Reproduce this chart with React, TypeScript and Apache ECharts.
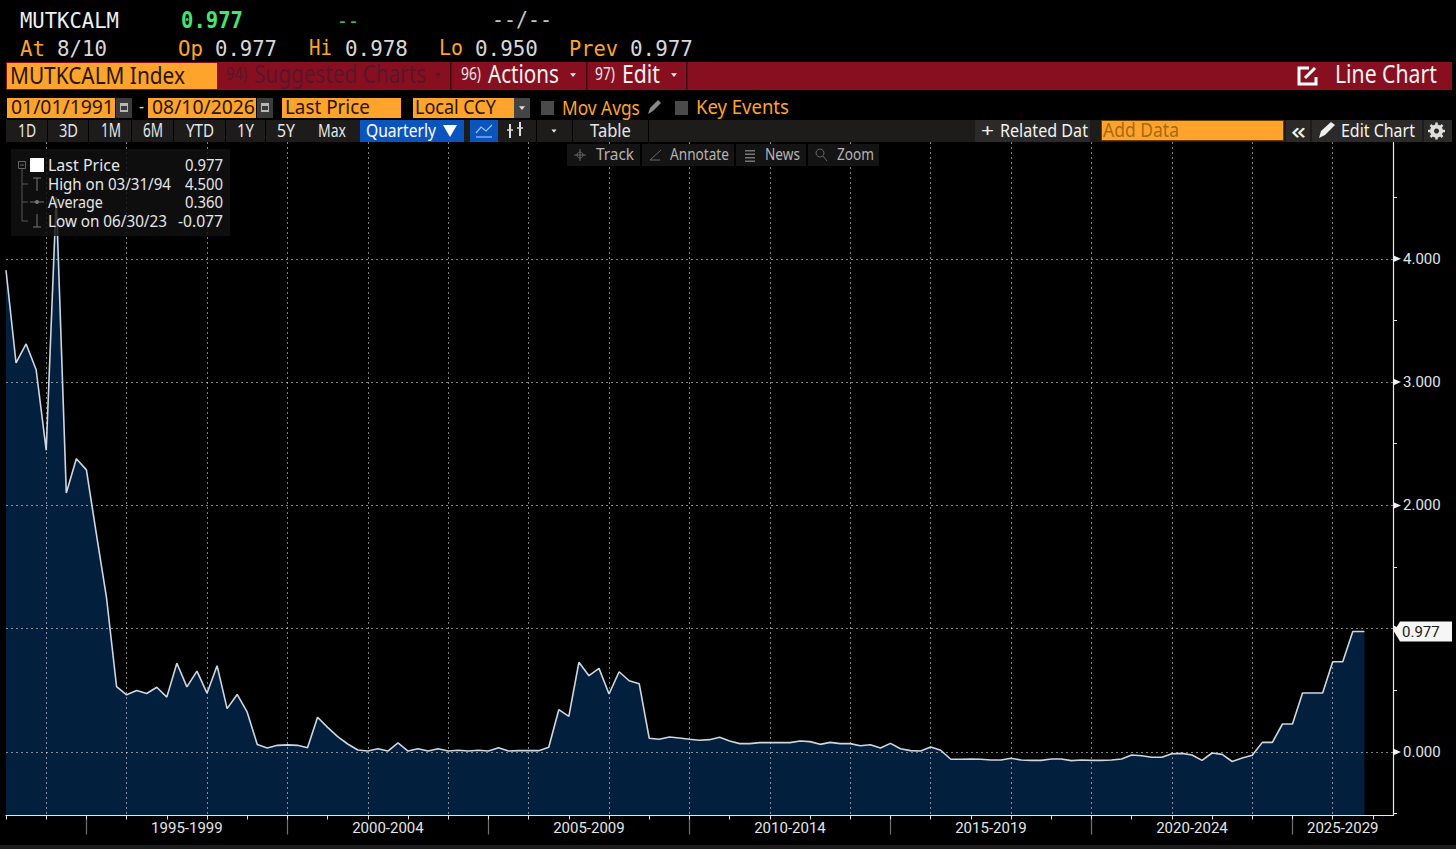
import React, { useEffect, useRef } from "react";
import * as echarts from "echarts";

// quarterly samples, first sample at 1993.00, one every quarter
const startYear = 1993;
const lastSampleYear = 2026.79; // the running quarter's stamp
const lastPriceValues = [
  3.907, 3.155, 3.309, 3.1, 2.448, 4.5, 2.1, 2.378, 2.288, 1.763, 1.251, 0.531,
  0.464, 0.499, 0.474, 0.525, 0.445, 0.72, 0.528, 0.656, 0.477, 0.7, 0.352, 0.467,
  0.323, 0.061, 0.032, 0.054, 0.058, 0.054, 0.035, 0.282, 0.2, 0.125, 0.065, 0.016,
  0.008, 0.027, 0.008, 0.073, 0.008, 0.027, 0.008, 0.027, 0.008, 0.014, 0.008, 0.014,
  0.008, 0.035, 0.008, 0.011, 0.011, 0.011, 0.038, 0.343, 0.289, 0.727, 0.619, 0.678,
  0.47, 0.651, 0.578, 0.554, 0.111, 0.103, 0.122, 0.114, 0.103, 0.095, 0.1, 0.119,
  0.089, 0.068, 0.068, 0.076, 0.076, 0.076, 0.076, 0.089, 0.084, 0.062, 0.078, 0.068,
  0.068, 0.051, 0.059, 0.032, 0.07, 0.027, 0.011, 0.008, 0.041, 0.014, -0.059, -0.059,
  -0.057, -0.059, -0.065, -0.065, -0.051, -0.065, -0.068, -0.068, -0.057, -0.057, -0.07, -0.065,
  -0.068, -0.068, -0.065, -0.057, -0.024, -0.03, -0.043, -0.043, -0.014, -0.011, -0.024, -0.068,
  -0.008, -0.019, -0.077, -0.049, -0.027, 0.078, 0.078, 0.227, 0.227, 0.478, 0.478, 0.478,
  0.732, 0.732, 0.977, 0.977,
];
const annualTicks = [
  1993, 1994, 1995, 1996, 1997, 1998, 1999, 2000, 2001, 2002, 2003, 2004, 2005, 2006, 2007, 2008, 2009, 2010,
  2011, 2012, 2013, 2014, 2015, 2016, 2017, 2018, 2019, 2020, 2021, 2022, 2023, 2024, 2025, 2026, 2027,
];
const periodStarts = [1995, 2000, 2005, 2010, 2015, 2020, 2025];
const periodLabels = ["1995-1999", "2000-2004", "2005-2009", "2010-2014", "2015-2019", "2020-2024", "2025-2029"];
const periodCentres = [1997.5, 2002.5, 2007.5, 2012.5, 2017.5, 2022.5, 2026.25];
const gridYears = [
  1994, 1996, 1998, 2000, 2002, 2004, 2006, 2008, 2010, 2012, 2014, 2016, 2018, 2020, 2022, 2024, 2026,
];
const yMajorTicks = [0, 1, 2, 3, 4];
const yMinorTicks = [-0.5, 0.5, 1.5, 2.5, 3.5, 4.5];
const lastPrice = 0.977;

const xMin = 1993;
const xMax = 2027.5;
const yMin = -0.515;
const yMax = 4.947;

const UI = "Noto Sans, Roboto, sans-serif";
const MONO = "DejaVu Sans Mono, monospace";
const ORANGE = "#fea42c";
const RED = "#880f20";
const BAR = "#1d1c1b";
const DIM = "#59162a";

const measureCtx = document.createElement("canvas").getContext("2d") as CanvasRenderingContext2D;

// text squeezed to span x0..x1, vertically centred on cy
function t(str: string, x0: number, x1: number, cy: number, size: number, fill: string, font = UI, weight = "normal") {
  measureCtx.font = `${weight} ${size}px ${font}`;
  const w = measureCtx.measureText(str).width || 1;
  return {
    type: "text",
    x: x0,
    y: font === UI ? cy - 1.5 : cy,
    scaleX: (x1 - x0) / w,
    z: 20,
    silent: true,
    style: { text: str, fill, font: `${weight} ${size}px ${font}`, textAlign: "left", textVerticalAlign: "middle" },
  };
}
function r(x: number, y: number, w: number, h: number, fill: string, opacity = 1, z = 15) {
  return { type: "rect", shape: { x, y, width: w, height: h }, style: { fill, opacity }, z, silent: true };
}
function tri(x: number, y: number, s: number, fill: string, z = 20) {
  return { type: "polygon", shape: { points: [[x - s, y - s * 0.6], [x + s, y - s * 0.6], [x, y + s * 0.7]] }, style: { fill }, z, silent: true };
}
function ln(x1: number, y1: number, x2: number, y2: number, stroke: string, lineWidth = 1, z = 20) {
  return { type: "line", shape: { x1, y1, x2, y2 }, style: { stroke, lineWidth }, z, silent: true };
}
function calendar(x: number, y: number) {
  return [r(x, y, 16, 20, "#3a3a3a", 1, 18), r(x + 4, y + 5, 8, 9, "#b8b8b8", 1, 19), r(x + 5, y + 8, 6, 4, "#3a3a3a", 1, 20)];
}

function chrome(): any[] {
  const W = "#e6e6e6";
  const Q = 22;
  return [
    // quote lines
    t("MUTKCALM", 20, 119, 20, Q, "#f0f0f0", MONO),
    t("0.977", 181, 243, 20, 23, "#45e56c", MONO, "bold"),
    t("--", 337, 359, 20, Q, "#2fbf5a", MONO),
    t("--/--", 492, 552, 20, Q, "#c8c8c8", MONO),
    t("At", 20, 45, 48, Q, ORANGE, MONO),
    t("8/10", 57, 107, 48, Q, "#d8d8d8", MONO),
    t("Op", 178, 203, 48, Q, ORANGE, MONO),
    t("0.977", 215, 277, 48, Q, "#d8d8d8", MONO),
    t("Hi", 309, 332, 48, Q, ORANGE, MONO),
    t("0.978", 345, 408, 48, Q, "#d8d8d8", MONO),
    t("Lo", 439, 463, 48, Q, ORANGE, MONO),
    t("0.950", 475, 538, 48, Q, "#d8d8d8", MONO),
    t("Prev", 569, 618, 48, Q, ORANGE, MONO),
    t("0.977", 630, 693, 48, Q, "#d8d8d8", MONO),

    // red title bar
    r(6, 62, 1446, 28, RED),
    r(7, 63, 210, 26, ORANGE, 1, 16),
    t("MUTKCALM Index", 10, 185, 76, 24, "#2a1500"),
    r(450, 62, 1.5, 28, "#3d0810", 1, 16),
    r(586, 62, 1.5, 28, "#3d0810", 1, 16),
    r(686, 62, 1.5, 28, "#3d0810", 1, 16),
    t("94)", 226, 247, 75, 18, DIM),
    t("Suggested Charts", 254, 426, 75, 25, DIM),
    tri(438, 75, 3, DIM),
    t("96)", 461, 481, 75, 18, W),
    t("Actions", 488, 559, 75, 25, "#f2f2f2"),
    tri(573, 75, 3, W),
    t("97)", 595, 615, 75, 18, W),
    t("Edit", 622, 660, 75, 25, "#f2f2f2"),
    tri(674, 75, 3, W),
    // pop-out icon
    { type: "polyline", shape: { points: [[1309, 68], [1299, 68], [1299, 84], [1316, 84], [1316, 77]] }, style: { stroke: "#fff", lineWidth: 3, fill: "none" }, z: 20, silent: true },
    ln(1305, 78, 1315, 68, "#fff", 3),
    t("Line Chart", 1335, 1437, 75, 25, "#f2f2f2"),

    // selector row
    r(7, 98, 108, 20, ORANGE),
    t("01/01/1991", 11, 114, 108, 20, "#2a1500"),
    ...calendar(116, 98),
    t("-", 139, 144, 108, 18, "#d0d0d0"),
    r(148, 98, 108, 20, ORANGE),
    t("08/10/2026", 152, 255, 108, 20, "#2a1500"),
    ...calendar(257, 98),
    r(282, 98, 119, 20, ORANGE),
    t("Last Price", 285, 370, 108, 20, "#2a1500"),
    r(413, 98, 101, 20, ORANGE),
    t("Local CCY", 415, 496, 108, 20, "#2a1500"),
    r(514, 98, 16, 20, "#444"),
    tri(522, 108, 3, "#ddd"),
    r(541, 101, 13, 14, "#4a4a4a"),
    t("Mov Avgs", 562, 640, 108, 20, ORANGE),
    { type: "polygon", shape: { points: [[648, 114], [650, 108], [658, 100], [661, 103], [653, 111]] }, style: { fill: "#8a8a8a" }, z: 20, silent: true },
    r(675, 101, 13, 14, "#4a4a4a"),
    t("Key Events", 696, 789, 108, 20, ORANGE),

    // range row
    r(6, 120, 1446, 22, BAR, 1, 14),
    t("1D", 18, 36, 131, 19, W),
    t("3D", 59, 78, 131, 19, W),
    t("1M", 101, 121, 131, 19, W),
    t("6M", 143, 163, 131, 19, W),
    t("YTD", 186, 214, 131, 19, W),
    t("1Y", 237, 254, 131, 19, W),
    t("5Y", 277, 295, 131, 19, W),
    t("Max", 318, 346, 131, 19, W),
    r(47, 120, 1, 22, "#000"), r(88, 120, 1, 22, "#000"), r(131, 120, 1, 22, "#000"),
    r(173, 120, 1, 22, "#000"), r(225, 120, 1, 22, "#000"), r(265, 120, 1, 22, "#000"),
    r(360, 120, 104, 22, "#0a54bd", 1, 16),
    t("Quarterly", 366, 436, 131, 19, "#ffffff"),
    { type: "polygon", shape: { points: [[443, 125], [457, 125], [450, 137]] }, style: { fill: "#fff" }, z: 20, silent: true },
    r(470, 120, 28, 22, "#0a54bd", 1, 16),
    { type: "polyline", shape: { points: [[476, 133], [481, 127], [486, 131], [492, 125]] }, style: { stroke: "#9cc4ff", lineWidth: 1.2, fill: "none" }, z: 20, silent: true },
    ln(476, 137, 492, 137, "#9cc4ff", 1.2),
    ln(510, 124, 510, 138, "#ddd", 2), ln(520, 122, 520, 136, "#ddd", 2), ln(507, 130, 513, 130, "#ddd", 1.5), ln(517, 128, 523, 128, "#ddd", 1.5),
    r(536, 120, 1, 22, "#000"),
    tri(554, 131, 2.5, W),
    r(572, 120, 1, 22, "#000"), r(648, 120, 1, 22, "#000"),
    t("Table", 590, 631, 131, 19, W),
    r(975, 120, 115, 22, "#2b2a29", 1, 16),
    t("+", 981, 994, 131, 19, "#f2f2f2"),
    t("Related Dat", 1000, 1088, 131, 19, "#f2f2f2"),
    r(1101, 120, 183, 21, "#6b3d00", 1, 16),
    r(1102, 121, 181, 19, ORANGE, 1, 17),
    t("Add Data", 1103, 1179, 131, 20, "#a8690f"),
    r(1286, 120, 24, 22, "#2b2a29", 1, 16),
    t("«", 1291, 1306, 131, 24, "#f2f2f2"),
    r(1312, 120, 110, 22, "#2b2a29", 1, 16),
    { type: "polygon", shape: { points: [[1319, 138], [1321, 131], [1331, 122], [1335, 125], [1325, 135]] }, style: { fill: "#eee" }, z: 20, silent: true },
    t("Edit Chart", 1341, 1415, 131, 19, "#f2f2f2"),
    r(1424, 120, 28, 22, "#2b2a29", 1, 16),
    { type: "ring", shape: { cx: 1436.5, cy: 131, r: 6.5, r0: 2.5 }, style: { fill: "#ddd" }, z: 20, silent: true },
    ln(1436.5, 122.5, 1436.5, 139.5, "#ddd", 2.5), ln(1428, 131, 1445, 131, "#ddd", 2.5),
    ln(1430.5, 125, 1442.5, 137, "#ddd", 2.5), ln(1430.5, 137, 1442.5, 125, "#ddd", 2.5),
    { type: "circle", shape: { cx: 1436.5, cy: 131, r: 2.5 }, style: { fill: "#2b2a29" }, z: 21, silent: true },

    // chart tool row
    r(567, 144, 73, 22, "#141414"), r(642, 144, 92, 22, "#141414"), r(736, 144, 70, 22, "#141414"), r(808, 144, 71, 22, "#141414"),
    ln(580, 149, 580, 161, "#666"), ln(574, 155, 586, 155, "#666"),
    { type: "circle", shape: { cx: 580, cy: 155, r: 3 }, style: { fill: "none", stroke: "#666" }, z: 20, silent: true },
    t("Track", 596, 634, 155, 16, "#b4b4b4"),
    ln(650, 160, 661, 150, "#666"), ln(650, 160, 660, 160, "#666"),
    t("Annotate", 670, 729, 155, 16, "#b4b4b4"),
    r(745, 150, 10, 1.5, "#777"), r(745, 153.5, 10, 1.5, "#777"), r(745, 157, 10, 1.5, "#777"), r(745, 160.5, 10, 1.5, "#777"),
    t("News", 765, 800, 155, 16, "#b4b4b4"),
    { type: "circle", shape: { cx: 820, cy: 153, r: 4 }, style: { fill: "none", stroke: "#666" }, z: 20, silent: true },
    ln(823, 156, 827, 161, "#666"),
    t("Zoom", 837, 874, 155, 16, "#b4b4b4"),

    // legend box
    r(11, 149, 219, 87, "#111111", 0.82),
    r(30, 158, 14, 14, "#ffffff", 1, 20),
    { type: "rect", shape: { x: 18.5, y: 161.5, width: 7, height: 7 }, style: { fill: "none", stroke: "#666" }, z: 20, silent: true },
    ln(20, 165, 24, 165, "#666"),
    ln(22, 169, 22, 221, "#555"),
    ln(22, 184, 28, 184, "#555"), ln(22, 202, 28, 202, "#555"), ln(22, 221, 28, 221, "#555"),
    ln(37, 178, 37, 191, "#777"), ln(33, 178, 41, 178, "#777"),
    ln(30, 202, 44, 202, "#777"), { type: "circle", shape: { cx: 37, cy: 202, r: 2 }, style: { fill: "#777" }, z: 20, silent: true },
    ln(37, 214, 37, 227, "#777"), ln(33, 227, 41, 227, "#777"),
    t("Last Price", 48, 120, 166, 16, W),
    t("0.977", 185, 223, 166, 16, W),
    t("High on 03/31/94", 48, 171, 185, 16, W),
    t("4.500", 185, 223, 185, 16, W),
    t("Average", 48, 103, 203, 16, W),
    t("0.360", 185, 223, 203, 16, W),
    t("Low on 06/30/23", 48, 167, 222, 16, W),
    t("-0.077", 178, 223, 222, 16, W),

    // window edge
    r(0, 845, 1456, 4, "#1d1d1d"),
  ];
}

export default function App() {
  const ref = useRef<HTMLDivElement>(null);
  useEffect(() => {
    const chart = echarts.init(ref.current as HTMLDivElement, undefined, { renderer: "svg" });
    const seriesData = lastPriceValues.map((v, i) => [i === lastPriceValues.length - 1 ? lastSampleYear : startYear + i / 4, v]);
    const grid = { left: 6, right: 63, top: 142, height: 673.5 };
    const gridLine = { show: true, lineStyle: { color: "rgba(235,235,235,0.55)", type: [2, 3] as any, width: 1 } };
    const hiddenX = { type: "value", min: xMin, max: xMax, position: "bottom", axisLine: { show: false, onZero: false }, axisLabel: { show: false } };
    const hiddenY = { type: "value", min: yMin, max: yMax, position: "right", axisLine: { show: false, onZero: false }, axisLabel: { show: false } };
    chart.setOption({
      animation: false,
      backgroundColor: "#000000",
      grid,
      xAxis: [
        {
          type: "value", min: xMin, max: xMax, position: "bottom", z: 4,
          axisLine: { show: true, onZero: false, lineStyle: { color: "#e8e8e8", width: 1.2 } },
          axisTick: { show: true, customValues: annualTicks, length: 4, lineStyle: { color: "#e0e0e0" } },
          splitLine: { show: false },
          axisLabel: {
            show: true, customValues: periodCentres, margin: 5, color: "#e4e4e4", fontFamily: "Roboto", fontSize: 15,
            formatter: (v: number) => periodLabels[periodCentres.indexOf(v)] ?? "",
          },
        },
        { ...hiddenX, z: 3, axisTick: { show: false, customValues: gridYears }, splitLine: gridLine },
        { ...hiddenX, z: 3, axisTick: { show: true, customValues: periodStarts, length: 19, lineStyle: { color: "#707070", width: 1.2 } }, splitLine: { show: false } },
      ],
      yAxis: [
        {
          type: "value", min: yMin, max: yMax, position: "right", z: 4,
          axisLine: { show: true, onZero: false, lineStyle: { color: "#e8e8e8", width: 1.2 } },
          axisTick: { show: true, customValues: yMinorTicks, length: 4, lineStyle: { color: "#e0e0e0" } },
          splitLine: { show: false },
          axisLabel: {
            show: true, customValues: yMajorTicks, margin: 10, color: "#e4e4e4", fontFamily: "Roboto", fontSize: 15,
            formatter: (v: number) => v.toFixed(3),
          },
        },
        { ...hiddenY, z: 3, axisTick: { show: false, customValues: yMajorTicks }, splitLine: gridLine },
      ],
      series: [
        {
          type: "line", name: "Last Price", data: seriesData, xAxisIndex: 0, yAxisIndex: 0, z: 2,
          showSymbol: false, symbol: "none", smooth: false,
          lineStyle: { color: "#cfd6de", width: 1.6 },
          areaStyle: { color: "#021f3e", opacity: 1, origin: "start" },
        },
        {
          type: "custom", name: "ticks", xAxisIndex: 0, yAxisIndex: 0, z: 6, silent: true,
          data: yMajorTicks.map((v) => [xMax, v]),
          renderItem: (_p: any, api: any) => {
            const c = api.coord([api.value(0), api.value(1)]);
            return { type: "polygon", shape: { points: [[c[0], c[1] - 3.5], [c[0] + 8, c[1]], [c[0], c[1] + 3.5]] }, style: { fill: "#f0f0f0" } };
          },
        },
        {
          type: "custom", name: "last", xAxisIndex: 0, yAxisIndex: 0, z: 7, silent: true,
          data: [[xMax, lastPrice]],
          renderItem: (_p: any, api: any) => {
            const c = api.coord([api.value(0), api.value(1)]);
            const x = c[0], y = c[1];
            return {
              type: "group",
              children: [
                { type: "polygon", shape: { points: [[x + 1, y], [x + 7, y - 10], [x + 59, y - 10], [x + 59, y + 10], [x + 7, y + 10]] }, style: { fill: "#f6f6f6" } },
                { type: "text", x: x + 9, y, style: { text: lastPrice.toFixed(3), fill: "#1a1a1a", font: "15px Roboto", textAlign: "left", textVerticalAlign: "middle" } },
              ],
            };
          },
        },
      ],
      graphic: { elements: chrome() },
    });
    return () => chart.dispose();
  }, []);
  return <div ref={ref} style={{ position: "fixed", left: 0, top: 0, width: 1456, height: 849, background: "#000" }} />;
}
